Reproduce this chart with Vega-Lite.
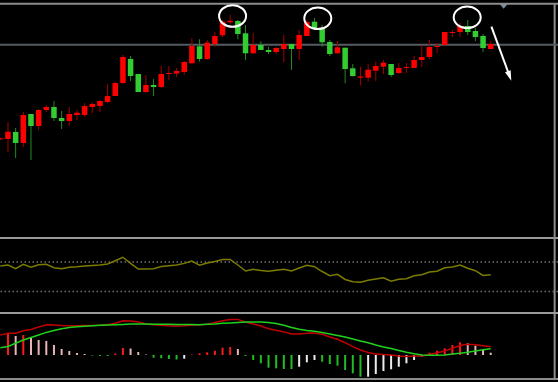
{
"$schema":"https://vega.github.io/schema/vega-lite/v6.json",
"background":"#000000",
"width":558,"height":382,
"autosize":{"type":"none"},
"padding":0,
"config":{"view":{"stroke":null},"axis":{"disable":true},"legend":{"disable":true}},
"resolve":{"scale":{"y":"independent"}},
"datasets":{
"d":[
{"i":0,"o":98.7,"h":100.5,"l":98,"c":99.7,"rsi":64.6,"dif":0.2,"dea":0.073,"hist":null,"tr":"up"},
{"i":1,"o":99,"h":116,"l":86,"c":106.3,"rsi":66.0,"dif":0.217,"dea":0.085,"hist":0.22,"tr":"up"},
{"i":2,"o":106,"h":110,"l":80,"c":95,"rsi":61.0,"dif":0.218,"dea":0.117,"hist":0.19,"tr":"dn"},
{"i":3,"o":95,"h":126,"l":91,"c":123,"rsi":66.9,"dif":0.243,"dea":0.15,"hist":0.2,"tr":"up"},
{"i":4,"o":124,"h":124,"l":78,"c":112,"rsi":62.9,"dif":0.256,"dea":0.175,"hist":0.17,"tr":"dn"},
{"i":5,"o":112,"h":129,"l":108,"c":128,"rsi":66.4,"dif":0.28,"dea":0.2,"hist":0.15,"tr":"dn"},
{"i":6,"o":128,"h":133,"l":126,"c":131,"rsi":66.9,"dif":0.302,"dea":0.226,"hist":0.14,"tr":"dn"},
{"i":7,"o":131,"h":137,"l":117,"c":120,"rsi":62.3,"dif":0.3,"dea":0.245,"hist":0.1,"tr":"dn"},
{"i":8,"o":120,"h":127,"l":109,"c":117,"rsi":61.0,"dif":0.295,"dea":0.263,"hist":0.06,"tr":"dn"},
{"i":9,"o":117,"h":131,"l":112,"c":124,"rsi":62.9,"dif":0.293,"dea":0.274,"hist":0.04,"tr":"dn"},
{"i":10,"o":123,"h":128,"l":118,"c":125.3,"rsi":63.5,"dif":0.293,"dea":0.282,"hist":0.02,"tr":"dn"},
{"i":11,"o":123,"h":135,"l":121,"c":132,"rsi":64.6,"dif":0.294,"dea":0.288,"hist":0.01,"tr":"dn"},
{"i":12,"o":131,"h":136,"l":125,"c":134,"rsi":65.3,"dif":0.296,"dea":0.293,"hist":-0.005,"tr":"dn"},
{"i":13,"o":132,"h":138,"l":126,"c":137,"rsi":66.0,"dif":0.298,"dea":0.297,"hist":-0.01,"tr":"dn"},
{"i":14,"o":136,"h":154,"l":135,"c":142,"rsi":67.3,"dif":0.302,"dea":0.3,"hist":-0.01,"tr":"dn"},
{"i":15,"o":142,"h":156,"l":142,"c":155,"rsi":71.8,"dif":0.318,"dea":0.303,"hist":0.015,"tr":"up"},
{"i":16,"o":155,"h":183,"l":154,"c":181,"rsi":76.5,"dif":0.342,"dea":0.306,"hist":0.07,"tr":"up"},
{"i":17,"o":179,"h":182,"l":157,"c":162,"rsi":68.3,"dif":0.341,"dea":0.309,"hist":0.065,"tr":"dn"},
{"i":18,"o":164,"h":164,"l":146,"c":146,"rsi":60.5,"dif":0.33,"dea":0.31,"hist":0.03,"tr":"dn"},
{"i":19,"o":146,"h":163,"l":145,"c":153,"rsi":60.5,"dif":0.311,"dea":0.309,"hist":0.005,"tr":"dn"},
{"i":20,"o":153,"h":159,"l":142,"c":151,"rsi":61.0,"dif":0.303,"dea":0.308,"hist":-0.027,"tr":"dn"},
{"i":21,"o":151,"h":172,"l":150,"c":164,"rsi":63.9,"dif":0.297,"dea":0.307,"hist":-0.033,"tr":"dn"},
{"i":22,"o":164,"h":172,"l":158,"c":165,"rsi":64.9,"dif":0.293,"dea":0.307,"hist":-0.04,"tr":"dn"},
{"i":23,"o":164.5,"h":170,"l":161,"c":167,"rsi":65.9,"dif":0.291,"dea":0.306,"hist":-0.045,"tr":"dn"},
{"i":24,"o":166,"h":177,"l":163,"c":176,"rsi":68.2,"dif":0.293,"dea":0.305,"hist":-0.037,"tr":"up"},
{"i":25,"o":174.7,"h":199.7,"l":174.7,"c":192,"rsi":71.4,"dif":0.297,"dea":0.304,"hist":0.005,"tr":"up"},
{"i":26,"o":191.7,"h":198.7,"l":176.3,"c":179,"rsi":65.6,"dif":0.302,"dea":0.303,"hist":0.017,"tr":"up"},
{"i":27,"o":179,"h":198,"l":178,"c":195.3,"rsi":68.7,"dif":0.308,"dea":0.307,"hist":0.027,"tr":"up"},
{"i":28,"o":194,"h":206,"l":191.3,"c":202,"rsi":70.7,"dif":0.326,"dea":0.311,"hist":0.043,"tr":"up"},
{"i":29,"o":202.7,"h":218,"l":200.7,"c":216.3,"rsi":73.5,"dif":0.343,"dea":0.317,"hist":0.073,"tr":"up"},
{"i":30,"o":215.7,"h":223,"l":213.7,"c":217.3,"rsi":73.5,"dif":0.356,"dea":0.321,"hist":0.08,"tr":"up"},
{"i":31,"o":217,"h":218,"l":198.7,"c":204,"rsi":66.0,"dif":0.356,"dea":0.325,"hist":0.06,"tr":"dn"},
{"i":32,"o":204.7,"h":213,"l":178,"c":184.7,"rsi":57.8,"dif":0.33,"dea":0.33,"hist":-0.01,"tr":"dn"},
{"i":33,"o":184.7,"h":205.3,"l":184.7,"c":193,"rsi":60.1,"dif":0.311,"dea":0.33,"hist":-0.05,"tr":"dn"},
{"i":34,"o":193,"h":197,"l":188,"c":188,"rsi":58.5,"dif":0.29,"dea":0.329,"hist":-0.083,"tr":"dn"},
{"i":35,"o":188,"h":191,"l":184,"c":186,"rsi":57.4,"dif":0.262,"dea":0.324,"hist":-0.127,"tr":"dn"},
{"i":36,"o":186,"h":191,"l":184,"c":190,"rsi":58.8,"dif":0.247,"dea":0.314,"hist":-0.133,"tr":"dn"},
{"i":37,"o":189,"h":203,"l":176,"c":194,"rsi":60.1,"dif":0.231,"dea":0.298,"hist":-0.14,"tr":"dn"},
{"i":38,"o":194,"h":194,"l":168,"c":189,"rsi":57.8,"dif":0.21,"dea":0.275,"hist":-0.14,"tr":"dn"},
{"i":39,"o":189,"h":208,"l":178,"c":203,"rsi":61.9,"dif":0.21,"dea":0.257,"hist":-0.117,"tr":"up"},
{"i":40,"o":202,"h":218,"l":202,"c":216,"rsi":65.7,"dif":0.218,"dea":0.246,"hist":-0.073,"tr":"up"},
{"i":41,"o":216.3,"h":220,"l":209.7,"c":209.7,"rsi":63.7,"dif":0.22,"dea":0.237,"hist":-0.05,"tr":"up"},
{"i":42,"o":210,"h":213,"l":191.3,"c":195.7,"rsi":57.1,"dif":0.207,"dea":0.224,"hist":-0.067,"tr":"dn"},
{"i":43,"o":196,"h":198,"l":182,"c":184,"rsi":51.4,"dif":0.18,"dea":0.21,"hist":-0.09,"tr":"dn"},
{"i":44,"o":184.7,"h":197,"l":184.7,"c":190.7,"rsi":53.3,"dif":0.157,"dea":0.195,"hist":-0.107,"tr":"dn"},
{"i":45,"o":190.3,"h":190.3,"l":154.7,"c":169,"rsi":46.3,"dif":0.123,"dea":0.181,"hist":-0.15,"tr":"dn"},
{"i":46,"o":169.7,"h":174,"l":161.3,"c":162,"rsi":43.3,"dif":0.084,"dea":0.161,"hist":-0.183,"tr":"dn"},
{"i":47,"o":160.3,"h":171.3,"l":152.7,"c":161.5,"rsi":42.4,"dif":0.05,"dea":0.141,"hist":-0.217,"tr":"dn"},
{"i":48,"o":160.3,"h":174,"l":156.3,"c":168.3,"rsi":45.2,"dif":0.026,"dea":0.122,"hist":-0.217,"tr":"up"},
{"i":49,"o":167.3,"h":176.3,"l":157,"c":172,"rsi":46.9,"dif":0.011,"dea":0.1,"hist":-0.19,"tr":"up"},
{"i":50,"o":171.3,"h":178,"l":164,"c":175.3,"rsi":48.7,"dif":0.004,"dea":0.081,"hist":-0.16,"tr":"up"},
{"i":51,"o":174,"h":174,"l":161,"c":163,"rsi":43.8,"dif":0,"dea":0.064,"hist":-0.143,"tr":"up"},
{"i":52,"o":165,"h":175,"l":164,"c":170,"rsi":46.5,"dif":-0.009,"dea":0.046,"hist":-0.117,"tr":"up"},
{"i":53,"o":170,"h":175,"l":165,"c":171,"rsi":47.3,"dif":-0.015,"dea":0.028,"hist":-0.083,"tr":"up"},
{"i":54,"o":170,"h":182,"l":170,"c":178,"rsi":51.4,"dif":-0.01,"dea":0.012,"hist":-0.05,"tr":"up"},
{"i":55,"o":178,"h":193,"l":171,"c":181,"rsi":52.8,"dif":-0.01,"dea":0,"hist":-0.015,"tr":"up"},
{"i":56,"o":181,"h":198,"l":179,"c":191,"rsi":56.5,"dif":0.006,"dea":-0.002,"hist":0.023,"tr":"up"},
{"i":57,"o":191,"h":195,"l":185,"c":192,"rsi":57.4,"dif":0.022,"dea":-0.002,"hist":0.043,"tr":"up"},
{"i":58,"o":193,"h":206,"l":193,"c":206,"rsi":62.3,"dif":0.04,"dea":0,"hist":0.067,"tr":"up"},
{"i":59,"o":205,"h":208,"l":201,"c":206,"rsi":63.3,"dif":0.067,"dea":0.009,"hist":0.1,"tr":"up"},
{"i":60,"o":206,"h":215,"l":201,"c":212,"rsi":66.0,"dif":0.094,"dea":0.018,"hist":0.127,"tr":"up"},
{"i":61,"o":212,"h":218,"l":203,"c":206,"rsi":61.5,"dif":0.107,"dea":0.028,"hist":0.117,"tr":"dn"},
{"i":62,"o":207,"h":210,"l":197,"c":201,"rsi":58.2,"dif":0.102,"dea":0.04,"hist":0.093,"tr":"dn"},
{"i":63,"o":202,"h":204,"l":186,"c":190,"rsi":51.7,"dif":0.093,"dea":0.052,"hist":0.06,"tr":"dn"},
{"i":64,"o":189,"h":197,"l":189,"c":194,"rsi":52.8,"dif":0.083,"dea":0.063,"hist":0.023,"tr":"dn"}
],
"rings":[{"i":30.31,"v":222},{"i":41.43,"v":219.7},{"i":60.93,"v":220.7}],
"arrow":[{"i":64.09,"v":211.3,"i2":66.46,"v2":162}],
"marker":[{"i":65.69,"v":231.7}],
"one":[{}]
},
"layer":[
{
"layer":[
{"data":{"name":"one"},"mark":{"type":"rule","color":"#8c8c8c","strokeWidth":2},
 "encoding":{"y":{"datum":234.3,"type":"quantitative","scale":{"domain":[0,234],"range":[238,4],"nice":false,"zero":false,"padding":0}}}},
{"data":{"name":"one"},"mark":{"type":"rule","color":"#9a9a9a","strokeWidth":2},
 "encoding":{"y":{"datum":0,"type":"quantitative"}}},
{"data":{"name":"one"},"mark":{"type":"rule","color":"#8c8c8c","strokeWidth":2},
 "encoding":{"x":{"datum":72.34,"type":"quantitative","scale":{"domain":[-0.043,72.78],"nice":false,"zero":false,"padding":0}},
  "y":{"datum":234.3,"type":"quantitative"},"y2":{"datum":-141}}},
{"data":{"name":"one"},"mark":{"type":"rule","color":"#555b62","strokeWidth":2},
 "encoding":{"y":{"datum":193.3,"type":"quantitative"}}},
{"data":{"name":"d"},"mark":{"type":"rule","strokeWidth":1,"clip":true},
 "encoding":{
  "x":{"field":"i","type":"quantitative","scale":{"domain":[-0.043,72.78],"nice":false,"zero":false,"padding":0}},
  "y":{"field":"l","type":"quantitative"},
  "y2":{"field":"h"},
  "color":{"condition":{"test":"datum.c >= datum.o","value":"#a30000"},"value":"#1e8c1e"}}},
{"data":{"name":"d"},"mark":{"type":"bar","size":5.5,"orient":"vertical","clip":true},
 "encoding":{
  "x":{"field":"i","type":"quantitative","scale":{"domain":[-0.043,72.78],"nice":false,"zero":false,"padding":0}},
  "y":{"field":"o","type":"quantitative"},
  "y2":{"field":"c"},
  "color":{"condition":{"test":"datum.c >= datum.o","value":"#ff0000"},"value":"#33cc33"}}},
{"data":{"name":"rings"},"mark":{"type":"point","shape":"M-1,0A1,0.8,0,1,0,1,0A1,0.8,0,1,0,-1,0Z","filled":false,"size":729,"stroke":"#ffffff","strokeWidth":2,"opacity":1},
 "encoding":{
  "x":{"field":"i","type":"quantitative"},
  "y":{"field":"v","type":"quantitative"}}},
{"data":{"name":"arrow"},"mark":{"type":"rule","color":"#ffffff","strokeWidth":2},
 "encoding":{
  "x":{"field":"i","type":"quantitative"},
  "x2":{"field":"i2"},
  "y":{"field":"v","type":"quantitative"},
  "y2":{"field":"v2"}}},
{"data":{"name":"arrow"},"mark":{"type":"point","shape":"M0,1L-0.6,-1L0.6,-1Z","filled":true,"size":100,"color":"#ffffff","opacity":1,"angle":340},
 "encoding":{
  "x":{"field":"i2","type":"quantitative"},
  "y":{"field":"v2","type":"quantitative"}}},
{"data":{"name":"marker"},"mark":{"type":"point","shape":"M-1,-0.6L1,-0.6L0,0.6Z","filled":true,"size":64,"color":"#7f8c99","opacity":1},
 "encoding":{
  "x":{"field":"i","type":"quantitative"},
  "y":{"field":"v","type":"quantitative"}}}
]
},
{
"layer":[
{"data":{"name":"one"},"mark":{"type":"rule","color":"#6e6e6e","strokeWidth":1.5,"strokeDash":[1.5,2.5]},
 "encoding":{"y":{"datum":30,"type":"quantitative","scale":{"domain":[0.68,102.7],"range":[313,238],"nice":false,"zero":false,"padding":0}}}},
{"data":{"name":"one"},"mark":{"type":"rule","color":"#6e6e6e","strokeWidth":1.5,"strokeDash":[1.5,2.5]},
 "encoding":{"y":{"datum":70,"type":"quantitative"}}},
{"data":{"name":"one"},"mark":{"type":"rule","color":"#9a9a9a","strokeWidth":2},
 "encoding":{"y":{"datum":0.68,"type":"quantitative"}}},
{"data":{"name":"d"},"mark":{"type":"line","color":"#7b7b00","strokeWidth":1.5,"clip":true},
 "encoding":{
  "x":{"field":"i","type":"quantitative","scale":{"domain":[-0.043,72.78],"nice":false,"zero":false,"padding":0}},
  "y":{"field":"rsi","type":"quantitative"}}}
]
},
{
"layer":[
{"data":{"name":"one"},"mark":{"type":"rule","color":"#8c8c8c","strokeWidth":2},
 "encoding":{"y":{"datum":-0.24,"type":"quantitative","scale":{"domain":[-0.24,0.42],"range":[379,313],"nice":false,"zero":false,"padding":0}}}},
{"data":{"name":"d"},"transform":[{"filter":"isValid(datum.hist)"}],"mark":{"type":"rule","strokeWidth":2,"clip":true},
 "encoding":{
  "x":{"field":"i","type":"quantitative","scale":{"domain":[-0.043,72.78],"nice":false,"zero":false,"padding":0}},
  "y":{"field":"hist","type":"quantitative"},
  "y2":{"datum":0},
  "color":{"condition":[
    {"test":"datum.hist >= 0 && datum.tr == 'up'","value":"#ff1a1a"},
    {"test":"datum.hist >= 0","value":"#e8b4b8"},
    {"test":"datum.tr == 'dn'","value":"#22bb22"}],
   "value":"#ececec"}}},
{"data":{"name":"d"},"mark":{"type":"line","color":"#c00000","strokeWidth":1.5,"clip":true},
 "encoding":{
  "x":{"field":"i","type":"quantitative"},
  "y":{"field":"dif","type":"quantitative"}}},
{"data":{"name":"d"},"mark":{"type":"line","color":"#1ed21e","strokeWidth":1.5,"clip":true},
 "encoding":{
  "x":{"field":"i","type":"quantitative"},
  "y":{"field":"dea","type":"quantitative"}}}
]
}
]
}
